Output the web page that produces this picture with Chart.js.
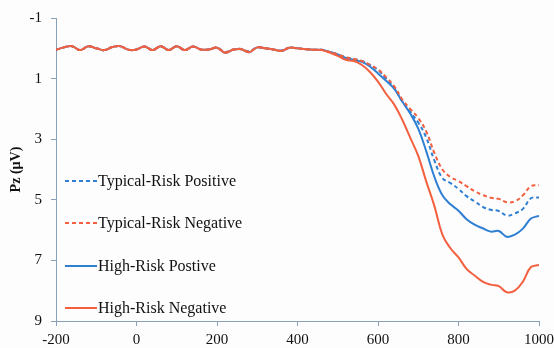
<!DOCTYPE html>
<html>
<head>
<meta charset="utf-8">
<script src="https://cdn.jsdelivr.net/npm/chart.js@4/dist/chart.umd.min.js"></script>
<style>
    html, body { margin: 0; padding: 0; background: #fdfdfe; }
    #wrap { width: 554px; height: 348px; position: relative; }
</style>
</head>
<body>
<div id="wrap"><canvas id="erpChart"></canvas></div>
<script>
// time points (ms)
const times = [
    -200, -180, -160, -140, -120, -100, -80, -60, -40, -20,
    0, 20, 40, 60, 80, 100, 120, 140, 160, 180,
    200, 220, 240, 260, 280, 300, 320, 340, 360, 380,
    400, 420, 440, 460, 480, 500, 520, 540, 560, 580,
    600, 620, 640, 660, 680, 700, 720, 740, 760, 780,
    800, 820, 840, 860, 880, 900, 920, 940, 960, 980, 1000,
];

const typicalPositive = [
    0.05, -0.03, -0.07, 0.06, -0.07, 0.0, 0.06, -0.04, -0.07, 0.05,
    0.04, -0.06, 0.06, -0.07, 0.06, -0.07, 0.06, -0.06, 0.04, 0.04,
    -0.02, 0.12, 0.04, 0.02, 0.1, -0.03, 0.0, 0.04, 0.07, -0.02,
    0.0, 0.03, 0.05, 0.05, 0.12, 0.2, 0.3, 0.36, 0.42, 0.55,
    0.72, 1.0, 1.3, 1.75, 2.1, 2.45, 2.95, 3.7, 4.28, 4.45,
    4.64, 4.88, 5.05, 5.23, 5.33, 5.37, 5.52, 5.45, 5.3, 4.95, 4.92,
];

const typicalNegative = [
    0.05, -0.03, -0.07, 0.06, -0.07, 0.0, 0.06, -0.04, -0.07, 0.05,
    0.04, -0.06, 0.06, -0.07, 0.06, -0.07, 0.06, -0.06, 0.04, 0.04,
    -0.02, 0.13, 0.04, 0.02, 0.11, -0.03, 0.0, 0.04, 0.08, -0.02,
    0.0, 0.03, 0.05, 0.05, 0.12, 0.2, 0.3, 0.35, 0.42, 0.55,
    0.7, 0.95, 1.25, 1.68, 2.0, 2.3, 2.75, 3.45, 4.0, 4.25,
    4.38, 4.55, 4.72, 4.84, 4.93, 4.97, 5.08, 5.05, 4.85, 4.55, 4.52,
];

const highPositive = [
    0.05, -0.03, -0.07, 0.06, -0.07, 0.0, 0.06, -0.04, -0.07, 0.05,
    0.04, -0.06, 0.06, -0.07, 0.06, -0.07, 0.06, -0.06, 0.04, 0.04,
    -0.02, 0.15, 0.05, 0.03, 0.13, -0.03, 0.0, 0.04, 0.09, -0.02,
    0.0, 0.03, 0.05, 0.05, 0.12, 0.2, 0.32, 0.38, 0.45, 0.6,
    0.83, 1.07, 1.33, 1.75, 2.15, 2.65, 3.4, 4.24, 4.85, 5.15,
    5.36, 5.64, 5.82, 5.94, 6.05, 6.03, 6.22, 6.15, 5.95, 5.62, 5.53,
];

const highNegative = [
    0.05, -0.03, -0.07, 0.06, -0.07, 0.0, 0.06, -0.04, -0.07, 0.05,
    0.04, -0.06, 0.06, -0.07, 0.06, -0.07, 0.06, -0.06, 0.04, 0.04,
    -0.02, 0.15, 0.05, 0.03, 0.13, -0.03, 0.0, 0.04, 0.09, -0.02,
    0.0, 0.03, 0.05, 0.06, 0.14, 0.25, 0.38, 0.42, 0.55, 0.78,
    1.1, 1.5, 1.85, 2.35, 2.95, 3.55, 4.4, 5.2, 6.15, 6.6,
    6.9, 7.28, 7.5, 7.7, 7.8, 7.85, 8.05, 8.0, 7.7, 7.22, 7.15,
];

const seriesNames = [
    "Typical-Risk Positive",
    "Typical-Risk Negative",
    "High-Risk Postive",
    "High-Risk Negative",
];

const xTicks = [-200, 0, 200, 400, 600, 800, 1000];
const yTicks = [-1, 1, 3, 5, 7, 9];

const BLUE = "#2f7fd2";
const RED = "#f2603f";
const AXIS = "#8aa0b6";
const FONT = "'Liberation Serif', 'Times New Roman', serif";

const toPoints = (vals) => vals.map((v, i) => ({ x: times[i], y: v }));

// legend drawn inside the plot, left side
const insideLegend = {
    id: "insideLegend",
    afterDraw(chart) {
        const { ctx, chartArea } = chart;
        const rows = [181, 223, 266, 308];
        ctx.save();
        ctx.font = "16px " + FONT;
        ctx.fillStyle = "#111";
        ctx.textBaseline = "middle";
        chart.data.datasets.forEach((ds, i) => {
            const y = rows[i];
            const x0 = chartArea.left + 9;
            ctx.strokeStyle = ds.borderColor;
            ctx.lineWidth = 2;
            ctx.setLineDash(ds.borderDash || []);
            ctx.beginPath();
            ctx.moveTo(x0, y);
            ctx.lineTo(x0 + 32, y);
            ctx.stroke();
            ctx.setLineDash([]);
            ctx.fillText(ds.label, x0 + 33, y + 1);
        });
        ctx.restore();
    },
};

new Chart(document.getElementById("erpChart"), {
    type: "line",

    data: {
        datasets: [
            {
                label: seriesNames[0],
                data: toPoints(typicalPositive),
                borderColor: BLUE,
                borderDash: [4, 3],
                order: 3,
            },
            {
                label: seriesNames[1],
                data: toPoints(typicalNegative),
                borderColor: RED,
                borderDash: [4, 3],
                order: 1,
            },
            {
                label: seriesNames[2],
                data: toPoints(highPositive),
                borderColor: BLUE,
                order: 2,
            },
            {
                label: seriesNames[3],
                data: toPoints(highNegative),
                borderColor: RED,
                order: 0,
            },
        ],
    },

    options: {
        responsive: true,
        maintainAspectRatio: false,
        animation: false,

        layout: {
            padding: { top: 13, right: 0, bottom: 0, left: 8 },
        },

        elements: {
            point: { radius: 0 },
            line: { borderWidth: 2, tension: 0.4, fill: false },
        },

        plugins: {
            legend: { display: false },
            tooltip: { enabled: false },
        },

        scales: {
            x: {
                type: "linear",
                min: -200,
                max: 1000,

                afterBuildTicks: (axis) => {
                    axis.ticks = xTicks.map((v) => ({ value: v }));
                },

                afterFit: (axis) => {
                    axis.height = 27;
                    axis.paddingRight = 15;
                },

                grid: {
                    drawOnChartArea: false,
                    tickLength: 5,
                    color: AXIS,
                },

                border: { color: AXIS },

                ticks: {
                    font: { family: FONT, size: 15 },
                    color: "#111",
                    padding: 5,
                    maxRotation: 0,
                    callback: (v) => String(v),
                },
            },

            y: {
                reverse: true,
                min: -1,
                max: 9,

                afterBuildTicks: (axis) => {
                    axis.ticks = yTicks.map((v) => ({ value: v }));
                },

                afterFit: (axis) => {
                    axis.width = 48;
                },

                grid: {
                    drawOnChartArea: false,
                    tickLength: 5,
                    color: AXIS,
                },

                border: { color: AXIS },

                ticks: {
                    font: { family: FONT, size: 15 },
                    color: "#111",
                    padding: 9,
                    callback: (v) => String(v),
                },

                title: {
                    display: true,
                    text: "Pz (µV)",
                    font: { family: FONT, size: 14, weight: "bold" },
                    color: "#111",
                    padding: { top: 0, bottom: 1 },
                },
            },
        },
    },

    plugins: [insideLegend],
});
</script>
</body>
</html>
